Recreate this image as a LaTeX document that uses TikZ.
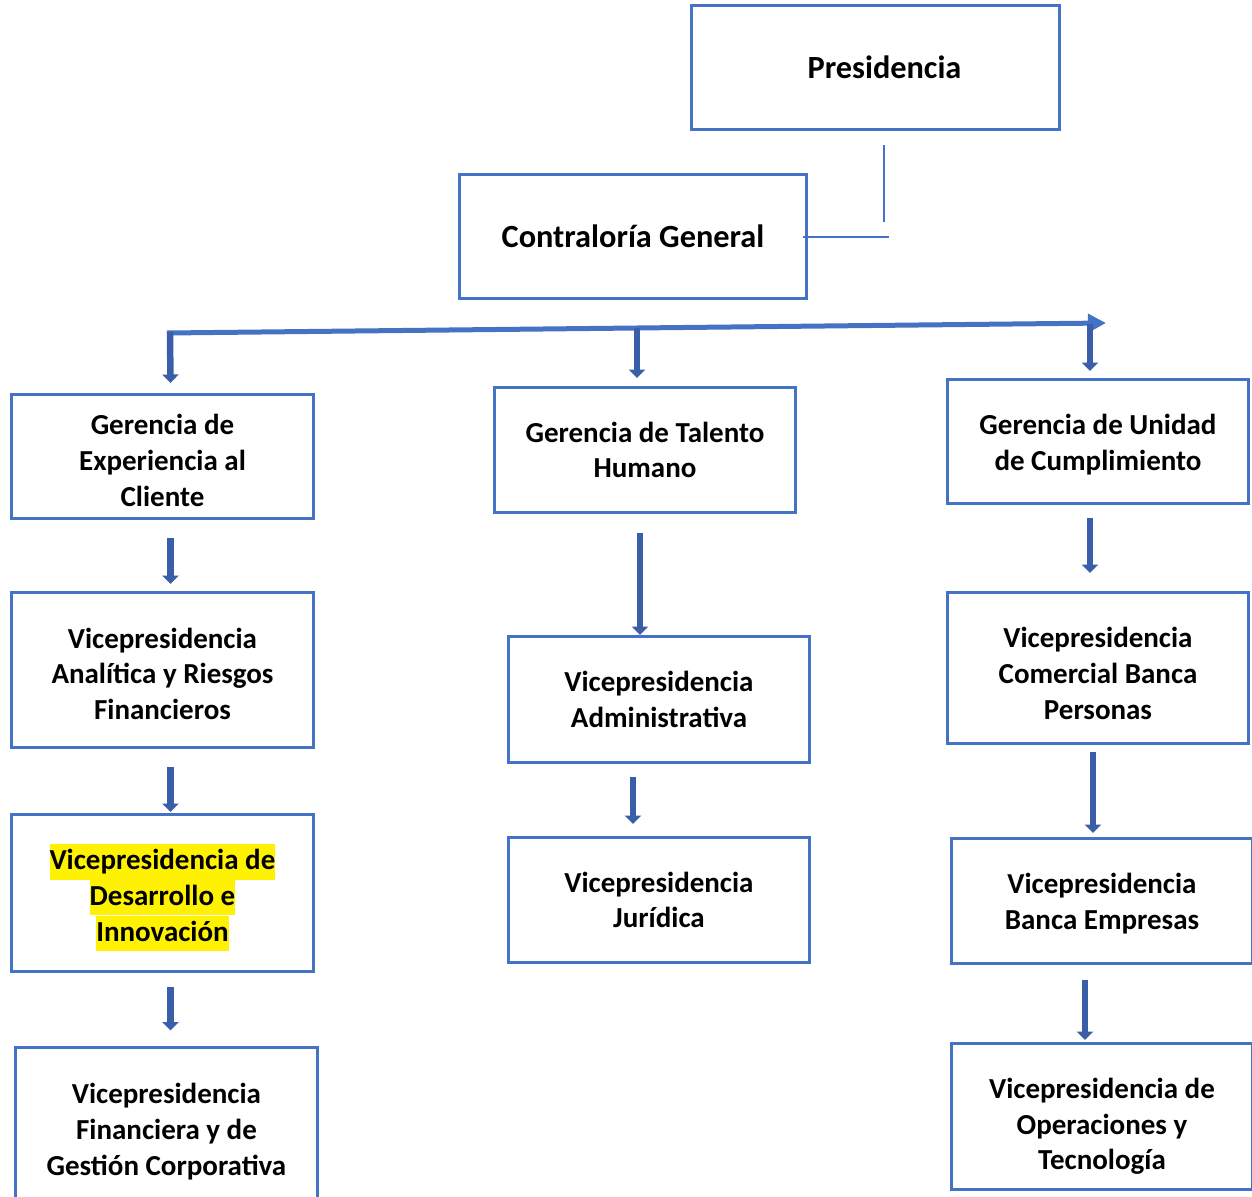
\documentclass[tikz,border=0pt]{standalone}
\usepackage{fontspec}
\setmainfont{Carlito}
\usetikzlibrary{arrows.meta,calc}
\definecolor{borde}{HTML}{4472C4}
\definecolor{flecha}{HTML}{3B5EA8}
\newcommand\resaltar[1]{{\setlength\fboxsep{0pt}\colorbox{yellow}{\rule[-0.27\baselineskip]{0pt}{0.99\baselineskip}#1}}}
\newcommand\bajar[1]{\rule{0pt}{#1}}
\tikzset{
	caja/.style={draw=borde, line width=0.06cm, align=center, inner sep=0pt, font=\fontsize{16.5}{20.4}\selectfont\bfseries},
	grande/.style={font=\fontsize{18.4}{22.4}\selectfont\bfseries},
	baja/.style={draw=flecha, line width=0.13cm, -{Triangle[length=0.17cm,width=0.32cm]}},
	barra/.style={draw=borde, line width=0.1cm, -{Triangle[length=0.36cm,width=0.36cm]}},
	fina/.style={draw=borde, line width=0.03cm},
}

\begin{document}
\begin{tikzpicture}[x=0.02cm, y=-0.02cm]
			%%%%% START %%%%%
			\useasboundingbox (0, 0) rectangle (1252, 1197);
			
			\node[caja, grande, minimum width=7.36cm, minimum height=2.48cm] (pres) at (875.5, 67.5) {\hspace*{0.36cm}Presidencia};
			\node[caja, grande, minimum width=6.94cm, minimum height=2.48cm] (contr) at (633, 236.5) {Contraloría General};
			
			\coordinate (pv1) at (884, 145);
			\coordinate (pv2) at (884, 222);
			\coordinate (ph1) at (803, 237);
			\coordinate (ph2) at (889, 237);
			\draw[fina] (pv1) -- (pv2);
			\draw[fina] (ph1) -- (ph2);
			
			% gerencias
			\node[caja, minimum width=6.04cm, minimum height=2.48cm] (gexp) at (162.5, 456.5) {\bajar{16pt}Gerencia de\\Experiencia al\\Cliente};
			\node[caja, minimum width=6.02cm, minimum height=2.50cm] (gtal) at (645, 450) {Gerencia de Talento\\Humano};
			\node[caja, minimum width=6.02cm, minimum height=2.48cm] (gcum) at (1098, 441.5) {\bajar{15.5pt}Gerencia de Unidad\\de Cumplimiento};
			
			% vicepresidencias
			\node[caja, minimum width=6.04cm, minimum height=3.10cm] (vpana) at (162.5, 670) {\bajar{16pt}Vicepresidencia\\Analítica y Riesgos\\Financieros};
			\node[caja, minimum width=6.04cm, minimum height=3.14cm] (vpdes) at (162.5, 893) {\bajar{20pt}\resaltar{Vicepresidencia de}\\\resaltar{Desarrollo e}\\\resaltar{Innovación}};
			\node[caja, minimum width=6.04cm, minimum height=3.06cm] (vpfin) at (166.5, 1123.5) {\bajar{20.6pt}Vicepresidencia\\Financiera y de\\Gestión Corporativa};
			
			\node[caja, minimum width=6.02cm, minimum height=2.52cm] (vpadm) at (659, 699.5) {Vicepresidencia\\Administrativa};
			\node[caja, minimum width=6.02cm, minimum height=2.50cm] (vpjur) at (659, 900) {Vicepresidencia\\Jurídica};
			
			\node[caja, minimum width=6.02cm, minimum height=3.02cm] (vpcom) at (1098, 668) {\bajar{17.7pt}Vicepresidencia\\Comercial Banca\\Personas};
			\node[caja, minimum width=6.02cm, minimum height=2.50cm] (vpemp) at (1102, 901) {\bajar{15pt}Vicepresidencia\\Banca Empresas};
			\node[caja, minimum width=6.02cm, minimum height=2.92cm] (vpope) at (1102, 1116.5) {\bajar{22.8pt}Vicepresidencia de\\Operaciones y\\Tecnología};
			
			% barra de reparto
			\coordinate (bi) at (167, 333);
			\coordinate (bd) at (1106, 323);
			\draw[barra] (bi) -- (bd);
			\coordinate (ti) at (170, 332);
			\coordinate (tm) at (637, 328);
			\coordinate (td) at (1090, 324);
			\draw[baja] (ti) -- ($(gexp.north)+(8,-10)$);
			\draw[baja] (tm) -- ($(gtal.north)+(-8,-8)$);
			\draw[baja] (td) -- ($(gcum.north)+(-8,-7)$);
			
			% flechas entre cajas
			\draw[baja] ($(gexp.south)+(8,18)$) -- ($(vpana.north)+(8,-7)$);
			\draw[baja] ($(vpana.south)+(8,18)$) -- ($(vpdes.north)+(8,-1)$);
			\draw[baja] ($(vpdes.south)+(8,14)$) -- ($(vpfin.north)+(4,-15)$);
			
			\draw[baja] ($(gtal.south)+(-5,19)$) -- ($(vpadm.north)+(-19,0)$);
			\draw[baja] ($(vpadm.south)+(-26,13)$) -- ($(vpjur.north)+(-26,-12)$);
			
			\draw[baja] ($(gcum.south)+(-8,13)$) -- ($(vpcom.north)+(-8,-18)$);
			\draw[baja] ($(vpcom.south)+(-5,7)$) -- ($(vpemp.north)+(-9,-4)$);
			\draw[baja] ($(vpemp.south)+(-17,15)$) -- ($(vpope.north)+(-17,-2)$);
			
			%%%%% END %%%%%
\end{tikzpicture}
\end{document}
